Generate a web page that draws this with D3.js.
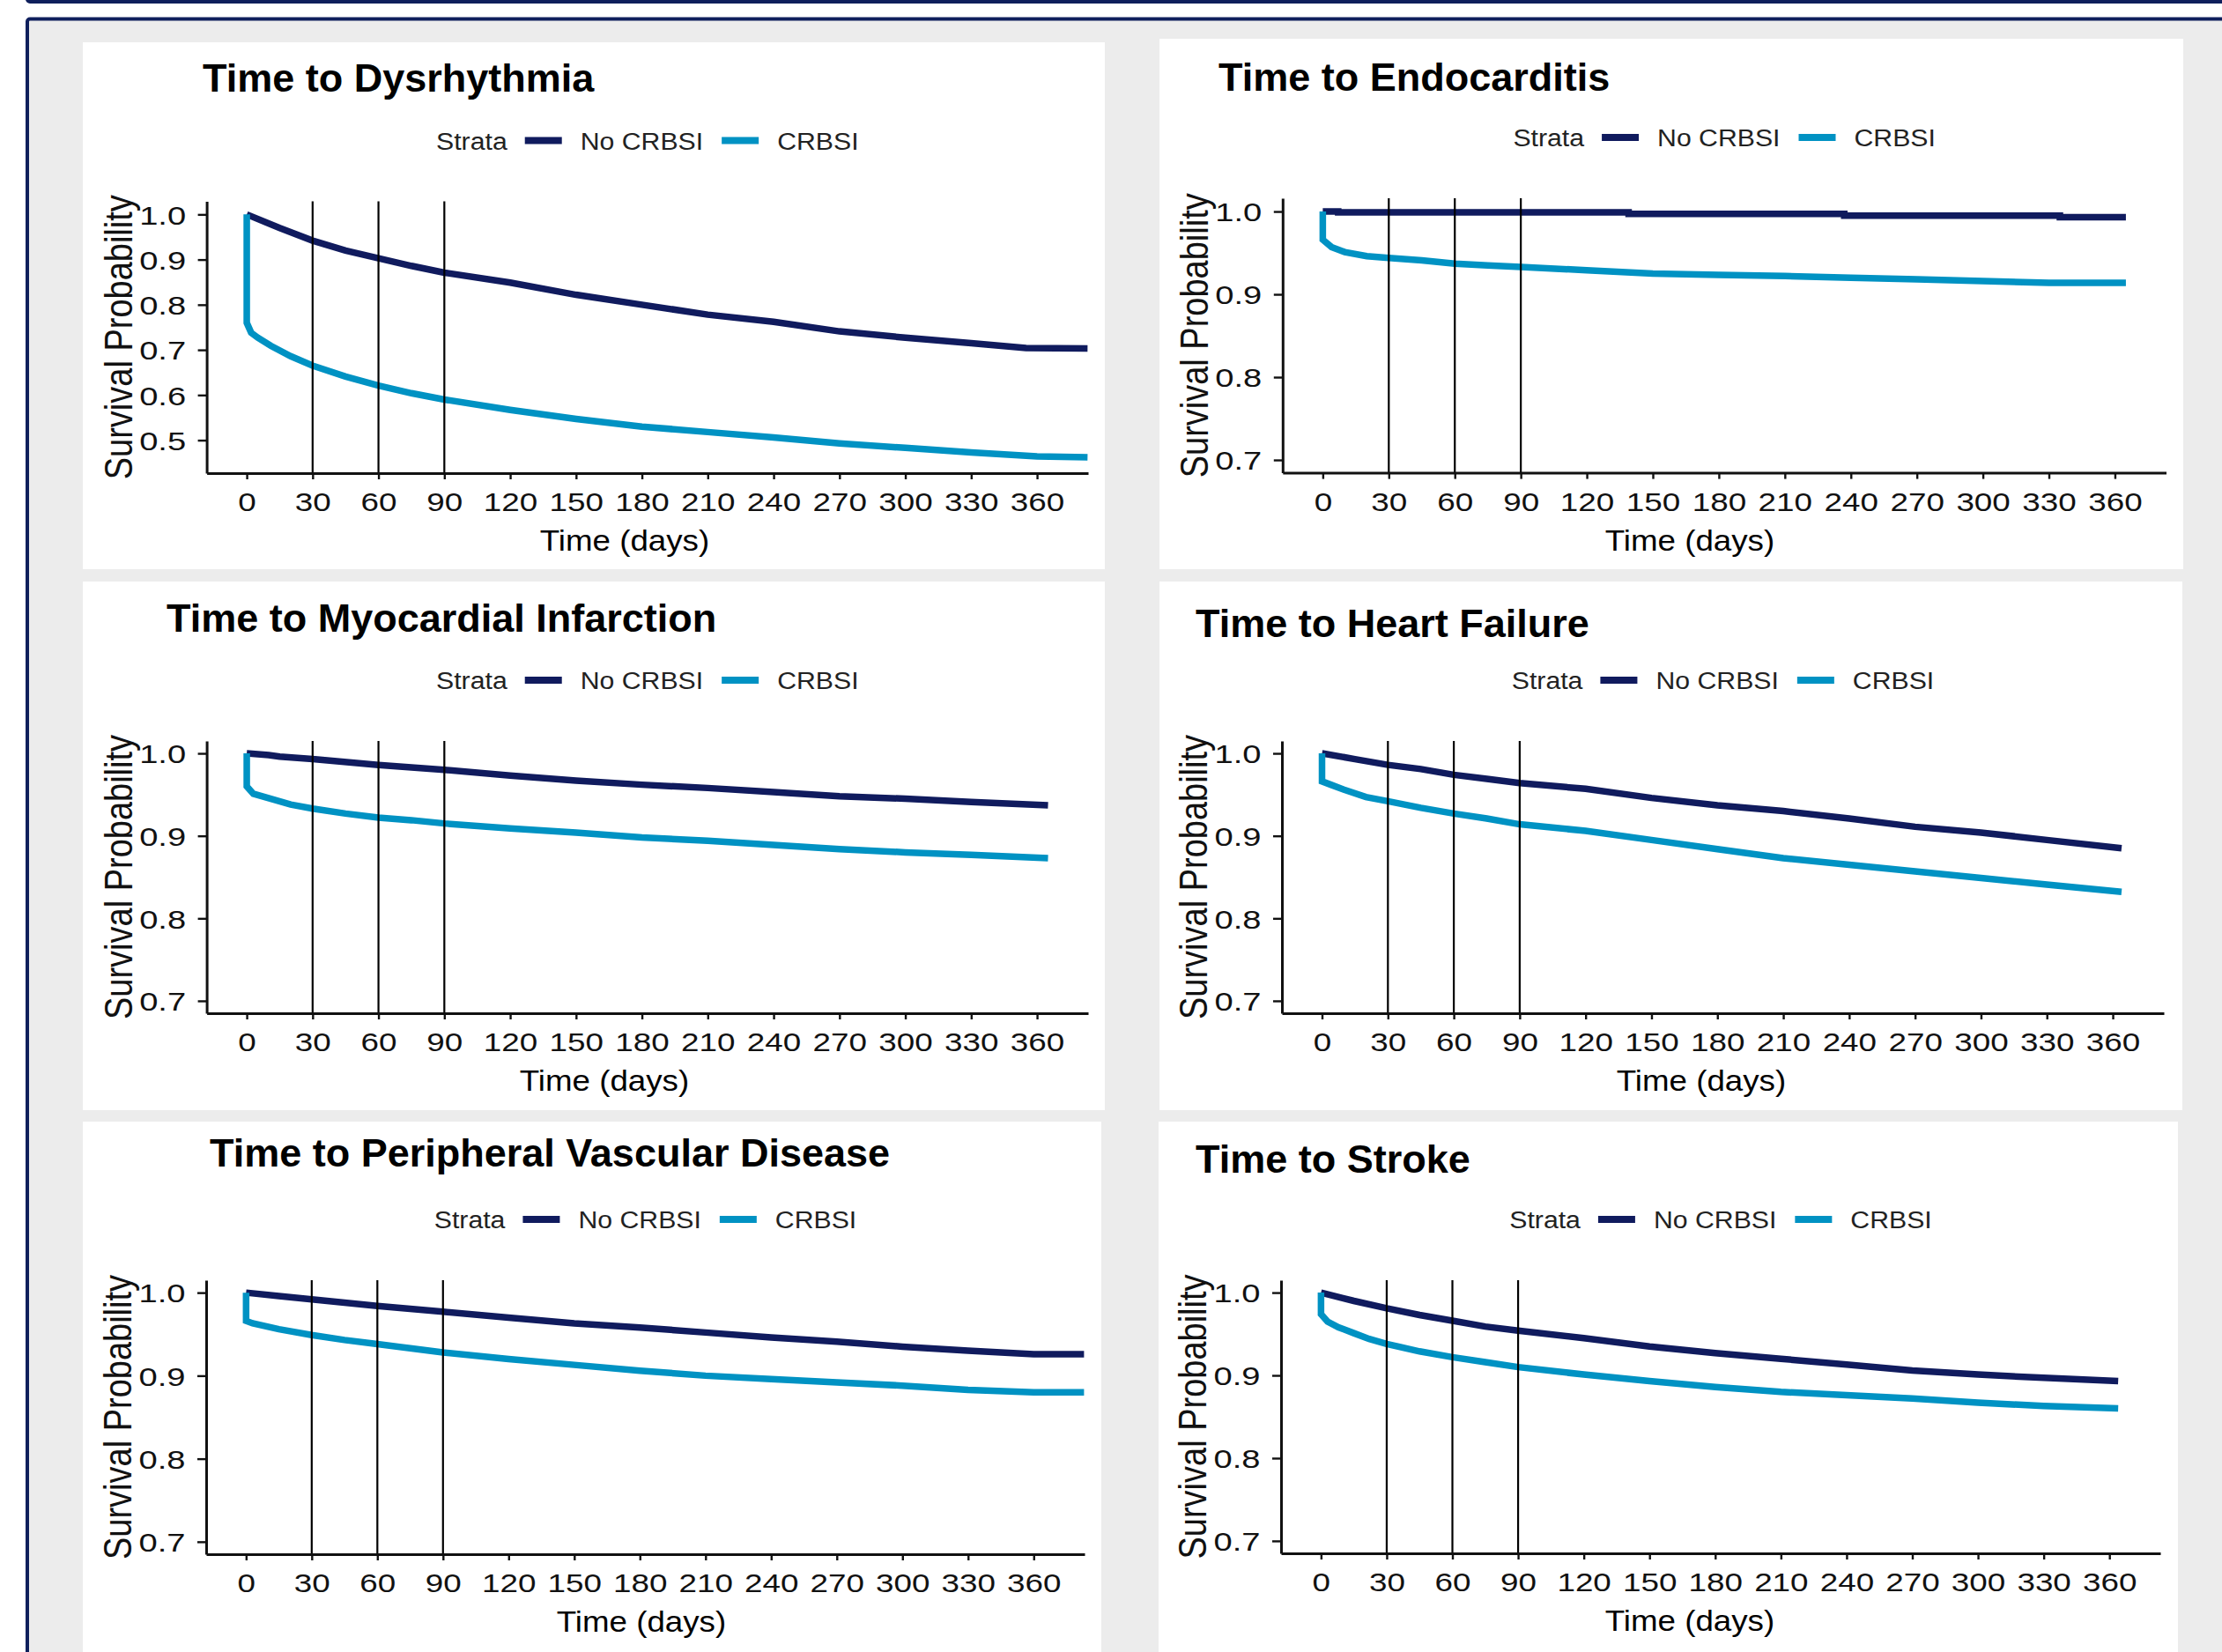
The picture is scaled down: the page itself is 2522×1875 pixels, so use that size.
<!DOCTYPE html>
<html>
<head>
<meta charset="utf-8">
<title>Time to cardiovascular events, CRBSI vs no CRBSI</title>
<script src="https://cdn.jsdelivr.net/npm/d3@7"></script>
<style>
  body { margin: 0; background: #fff; }
  svg { display: block; font-family: "Liberation Sans", Arial, Helvetica, sans-serif; }
</style>
</head>
<body>
<div id="chart"></div>
<script>
// ---- values: [day, survival probability] ----
const titles = ["Time to Dysrhythmia", "Time to Endocarditis", "Time to Myocardial Infarction",
                "Time to Heart Failure", "Time to Peripheral Vascular Disease", "Time to Stroke"];
const strata = ["No CRBSI", "CRBSI"];
const xTicks = [0, 30, 60, 90, 120, 150, 180, 210, 240, 270, 300, 330, 360];
const yTicksWide = [0.5, 0.6, 0.7, 0.8, 0.9, 1.0];
const yTicksNarrow = [0.7, 0.8, 0.9, 1.0];
const refDays = [30, 60, 90];

const dysNo = [[0,1.0],[15,0.970],[30,0.942],[45,0.920],[60,0.903],[75,0.886],[90,0.871],[120,0.849],[150,0.822],[180,0.800],[210,0.778],[240,0.762],[270,0.741],[300,0.727],[330,0.715],[355,0.704],[383,0.703]];
const dysYes = [[0,1.0],[0,0.760],[2,0.738],[5,0.727],[11,0.709],[20,0.686],[30,0.665],[45,0.641],[60,0.621],[75,0.604],[90,0.590],[120,0.567],[150,0.547],[180,0.530],[210,0.518],[240,0.506],[270,0.493],[300,0.483],[330,0.473],[360,0.464],[383,0.462]];

const endoNo = [[0,1.0],[7,1.0],[7,0.999],[139,0.999],[139,0.997],[237,0.997],[237,0.995],[335,0.995],[335,0.993],[365,0.993]];
const endoYes = [[0,1.0],[0,0.966],[4,0.957],[10,0.951],[20,0.946],[30,0.944],[45,0.941],[60,0.937],[75,0.935],[90,0.933],[120,0.929],[150,0.925],[180,0.9235],[210,0.922],[240,0.920],[270,0.918],[300,0.916],[330,0.914],[365,0.914]];

const miNo = [[0,1.0],[10,0.998],[15,0.996],[30,0.993],[60,0.986],[90,0.980],[120,0.973],[150,0.967],[180,0.962],[210,0.958],[240,0.953],[270,0.948],[300,0.945],[330,0.941],[365,0.937]];
const miYes = [[0,1.0],[0,0.960],[3,0.951],[11,0.945],[20,0.938],[30,0.933],[45,0.927],[60,0.922],[75,0.919],[90,0.915],[120,0.909],[150,0.904],[180,0.898],[210,0.894],[240,0.889],[270,0.884],[300,0.880],[330,0.877],[365,0.873]];

const hfNo = [[0,1.0],[15,0.993],[30,0.986],[45,0.981],[60,0.974],[75,0.969],[90,0.964],[120,0.957],[150,0.946],[180,0.937],[210,0.930],[240,0.921],[270,0.911],[300,0.904],[330,0.895],[364,0.885]];
const hfYes = [[0,1.0],[0,0.966],[4,0.962],[10,0.956],[20,0.947],[30,0.942],[45,0.934],[60,0.927],[75,0.921],[90,0.914],[120,0.906],[150,0.895],[180,0.884],[210,0.873],[240,0.865],[270,0.857],[300,0.849],[330,0.841],[364,0.832]];

const pvdNo = [[0,1.0],[15,0.996],[30,0.992],[60,0.984],[90,0.977],[120,0.970],[150,0.963],[180,0.958],[210,0.952],[240,0.946],[270,0.941],[300,0.935],[330,0.930],[360,0.926],[383,0.926]];
const pvdYes = [[0,1.0],[0,0.966],[3,0.963],[15,0.956],[30,0.949],[45,0.943],[60,0.938],[75,0.933],[90,0.928],[120,0.920],[150,0.913],[180,0.906],[210,0.900],[240,0.896],[270,0.892],[300,0.888],[330,0.883],[360,0.880],[383,0.880]];

const strokeNo = [[0,1.0],[15,0.990],[30,0.981],[45,0.973],[60,0.966],[75,0.959],[90,0.954],[120,0.945],[150,0.935],[180,0.927],[210,0.920],[240,0.913],[270,0.906],[300,0.901],[330,0.897],[364,0.893]];
const strokeYes = [[0,1.0],[0,0.974],[3,0.965],[8,0.958],[15,0.951],[22,0.944],[30,0.938],[45,0.929],[60,0.922],[75,0.916],[90,0.910],[120,0.901],[150,0.893],[180,0.886],[210,0.880],[240,0.876],[270,0.872],[300,0.867],[330,0.863],[364,0.860]];

const noCrbsi = [dysNo, endoNo, miNo, hfNo, pvdNo, strokeNo];
const crbsi = [dysYes, endoYes, miYes, hfYes, pvdYes, strokeYes];

// ---- layout (pixels) ----
const width = 2522, height = 1875;
const navy = "#101b5e", cyan = "#0092c3", frame = "#0f1f5c";
const xDomain = [-18.25, 383.25];

// panel box, title anchor, plot box [left, right, top, bottom], x-title centre
const layout = [
  {x: 94,   y: 48,   w: 1160, h: 598, tx: 230,  ty: 104, plot: [234.6, 1235, 228.5, 537],  xt: 709,  yDom: [0.427, 1.029], yTicks: yTicksWide},
  {x: 1316, y: 44,   w: 1162, h: 602, tx: 1383, ty: 103, plot: [1455.8, 2458.5, 225, 536.6], xt: 1918, yDom: [0.6845, 1.016], yTicks: yTicksNarrow},
  {x: 94,   y: 660,  w: 1160, h: 600, tx: 189,  ty: 717, plot: [234.6, 1235, 841, 1150],  xt: 686,  yDom: [0.685, 1.015], yTicks: yTicksNarrow},
  {x: 1316, y: 660,  w: 1161, h: 600, tx: 1357, ty: 723, plot: [1455, 2456, 841, 1150],    xt: 1931, yDom: [0.685, 1.015], yTicks: yTicksNarrow},
  {x: 94,   y: 1273, w: 1156, h: 610, tx: 238,  ty: 1324, plot: [234, 1231, 1453, 1764],   xt: 728,  yDom: [0.685, 1.015], yTicks: yTicksNarrow},
  {x: 1315, y: 1273, w: 1157, h: 610, tx: 1357, ty: 1331, plot: [1454, 2452, 1453, 1763],  xt: 1918, yDom: [0.685, 1.015], yTicks: yTicksNarrow}
];

const svg = d3.select("#chart").append("svg")
    .attr("width", width)
    .attr("height", height);

//  frame: a thin bar above and the grey board
svg.append("rect")
    .attr("x", 31).attr("y", -40).attr("width", 2600).attr("height", 42).attr("rx", 3)
    .attr("fill", "none").attr("stroke", frame).attr("stroke-width", 4);
svg.append("rect")
    .attr("x", 31).attr("y", 21.5).attr("width", 2600).attr("height", 2000).attr("rx", 3)
    .attr("fill", "#ececec").attr("stroke", frame).attr("stroke-width", 4);

//  text that is wider than the font (the plots were stretched sideways)
function wideText(g, x, y, str, size, k, anchor) {
    return g.append("text")
        .attr("transform", `translate(${x},${y}) scale(${k},1)`)
        .attr("text-anchor", anchor || "start")
        .attr("font-size", size)
        .text(str);
}

layout.forEach((p, i) => {
    const [x0, x1, y0, y1] = p.plot;
    const g = svg.append("g");

    g.append("rect")
        .attr("x", p.x).attr("y", p.y).attr("width", p.w).attr("height", p.h)
        .attr("fill", "#fff");

    g.append("text")
        .attr("x", p.tx).attr("y", p.ty)
        .attr("font-size", 45).attr("font-weight", "bold").attr("fill", "#000")
        .text(titles[i]);

    const x = d3.scaleLinear().domain(xDomain).range([x0, x1]);
    const y = d3.scaleLinear().domain(p.yDom).range([y1, y0]);

    //  legend, centred over the plot
    const leg = g.append("g").attr("fill", "#222");
    const ly = y0 - 59;
    let cx = 0;
    const t0 = wideText(leg, cx, ly, "Strata", 27, 1.12);
    cx += t0.node().getComputedTextLength() * 1.12 + 20;
    [navy, cyan].forEach((c, j) => {
        leg.append("line")
            .attr("x1", cx).attr("x2", cx + 42)
            .attr("y1", ly - 10).attr("y2", ly - 10)
            .attr("stroke", c).attr("stroke-width", 8);
        cx += 42 + 21;
        const t = wideText(leg, cx, ly, strata[j], 27, 1.12);
        cx += t.node().getComputedTextLength() * 1.12 + (j === 0 ? 21 : 0);
    });
    leg.attr("transform", `translate(${(x0 + x1) / 2 - cx / 2},0)`);

    //  curves
    const line = d3.line().x(d => x(d[0])).y(d => y(d[1]));
    [[noCrbsi[i], navy], [crbsi[i], cyan]].forEach(([s, c]) => {
        g.append("path")
            .datum(s)
            .attr("d", line)
            .attr("fill", "none")
            .attr("stroke", c)
            .attr("stroke-width", 7.5)
            .attr("stroke-linejoin", "miter");
    });

    //  30/60/90 day markers
    g.append("g").selectAll("line")
        .data(refDays)
        .join("line")
            .attr("x1", d => x(d)).attr("x2", d => x(d))
            .attr("y1", y0).attr("y2", y1)
            .attr("stroke", "#000").attr("stroke-width", 2.2);

    //  axes
    const xa = g.append("g")
        .attr("transform", `translate(0,${y1})`)
        .call(d3.axisBottom(x).tickValues(xTicks).tickSize(7).tickSizeOuter(0));
    xa.select(".domain").attr("stroke", "#111").attr("stroke-width", 3);
    xa.selectAll(".tick line").attr("stroke", "#111").attr("stroke-width", 2.4);
    xa.selectAll(".tick text")
        .attr("y", null).attr("dy", null)
        .attr("transform", "translate(0,43) scale(1.27,1)")
        .attr("font-size", 29).attr("fill", "#111");

    const ya = g.append("g")
        .attr("transform", `translate(${x0},0)`)
        .call(d3.axisLeft(y).tickValues(p.yTicks).tickFormat(d3.format(".1f")).tickSize(10).tickSizeOuter(0));
    ya.select(".domain").attr("stroke", "#111").attr("stroke-width", 3);
    ya.selectAll(".tick line").attr("stroke", "#111").attr("stroke-width", 2.4);
    ya.selectAll(".tick text")
        .attr("x", null).attr("dy", "0.36em")
        .attr("transform", "translate(-23.5,0) scale(1.27,1)")
        .attr("font-size", 30).attr("fill", "#111");
    xa.attr("font-family", null);
    ya.attr("font-family", null);

    //  axis titles
    wideText(g, p.xt, y1 + 88, "Time (days)", 34, 1.08, "middle").attr("fill", "#000");
    g.append("text")
        .attr("transform", `translate(${x0 - 85},${(y0 + y1) / 2}) scale(1.15,1) rotate(-90)`)
        .attr("text-anchor", "middle")
        .attr("font-size", 38).attr("fill", "#111")
        .text("Survival Probability");
});
</script>
</body>
</html>
